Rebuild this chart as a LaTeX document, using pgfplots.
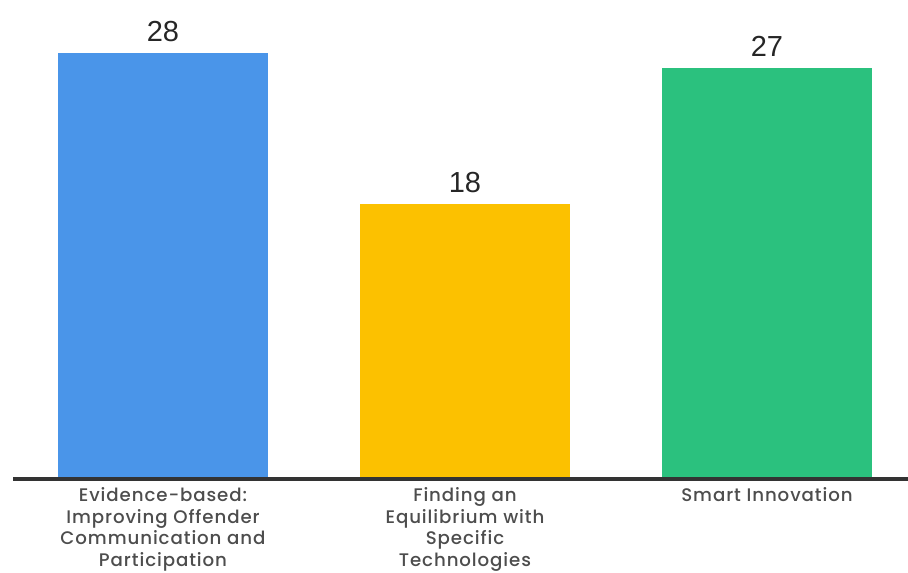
\documentclass[border=0pt]{standalone}
\usepackage{fontspec}
\setmainfont{Poppins}
\newfontfamily\labelfont{Poppins Medium}[LetterSpace=5]
\newfontfamily\valuefont{Liberation Sans}
\usepackage{pgfplots}
\pgfplotsset{compat=1.18}
\definecolor{barblue}{HTML}{4A95E9}
\definecolor{baryellow}{HTML}{FCC100}
\definecolor{bargreen}{HTML}{2BC17E}
\definecolor{axisgray}{HTML}{333333}
\definecolor{labelgray}{HTML}{4D4D4D}
\definecolor{valuegray}{HTML}{262626}
\begin{document}
\begin{tikzpicture}[x=1pt,y=1pt]
% fixed canvas
\path[use as bounding box] (-13,-96) rectangle (895,477);
\begin{axis}[
  at={(0,0)}, anchor=south west,
  scale only axis,
  width=895pt, height=477pt,
  xmin=-0.4967, xmax=2.467,
  ymin=0, ymax=31.5,
  ybar, bar width=210pt,
  axis x line*=bottom,
  axis y line=none,
  axis line style={-, draw=axisgray, line width=3.5pt, yshift=-1.75pt},
  xtick={0,1,2},
  xticklabels={{Evidence-based:\\Improving Offender\\Communication and\\Participation},
               {Finding an\\Equilibrium with\\Specific\\Technologies},
               {Smart Innovation}},
  major tick length=0pt,
  xticklabel style={align=center, text=labelgray, inner sep=0pt, yshift=-10pt,
    font=\labelfont\fontsize{18.2}{21.8}\selectfont},
  /pgf/number format/assume math mode=true,
  nodes near coords,
  every node near coord/.append style={font=\valuefont\fontsize{29}{29}\selectfont,
    text=valuegray, inner sep=0pt, yshift=11pt},
]
\addplot[bar shift=0pt, fill=barblue, draw=none] coordinates {(0,28)};
\addplot[bar shift=0pt, fill=baryellow, draw=none] coordinates {(1,18)};
\addplot[bar shift=0pt, fill=bargreen, draw=none] coordinates {(2,27)};
\end{axis}
\end{tikzpicture}
\end{document}
